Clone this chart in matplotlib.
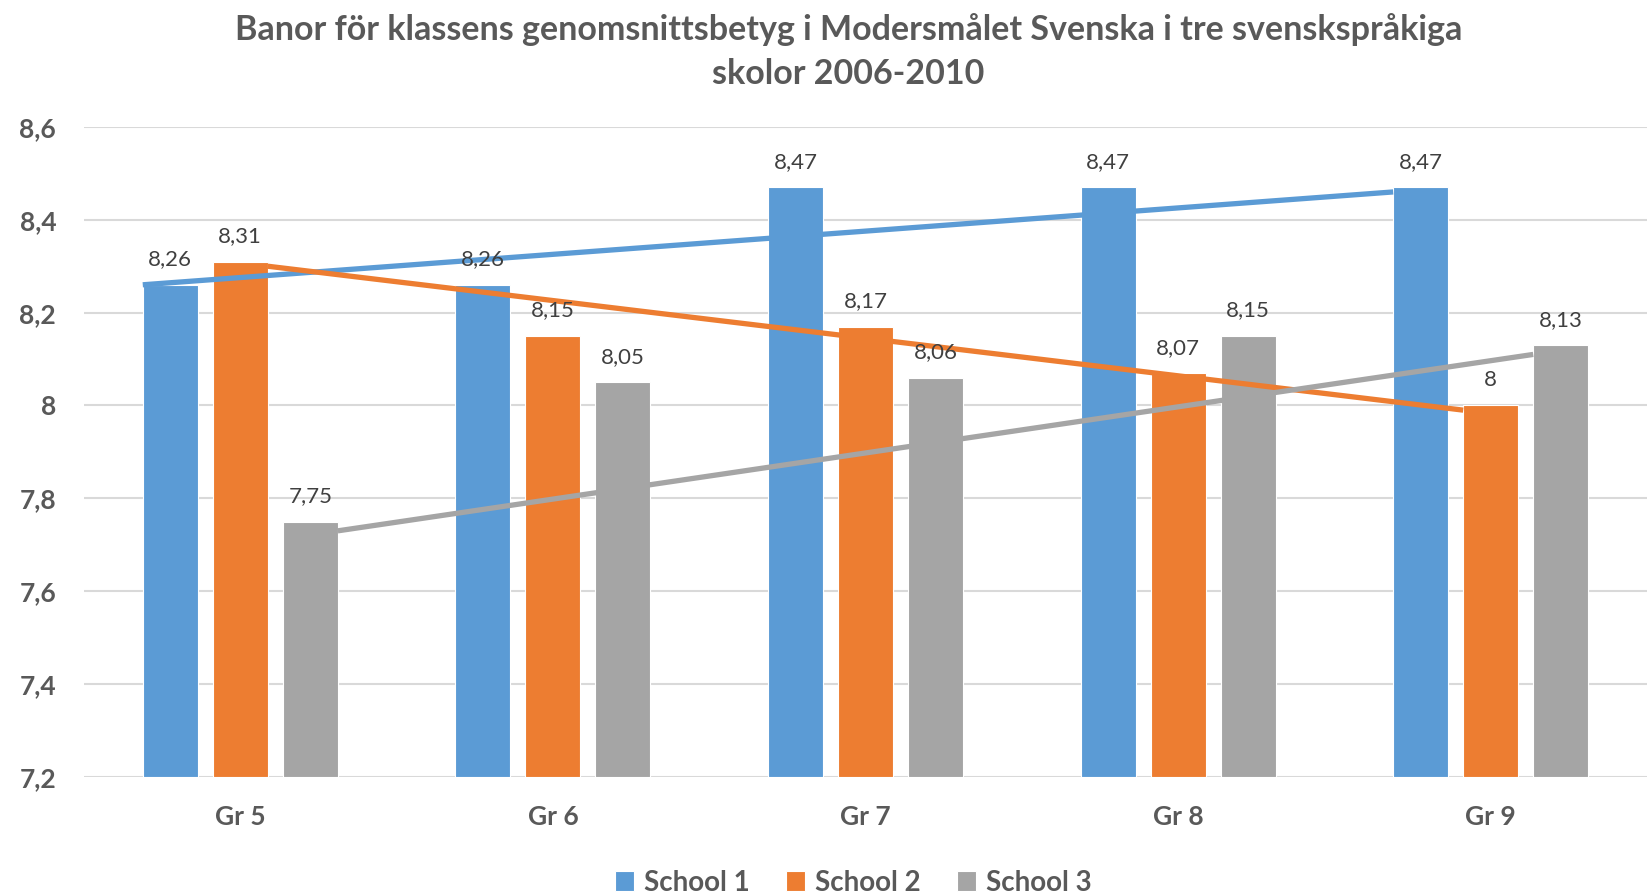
# Banor för klassens genomsnittsbetyg - grouped bars with hand drawn trend lines
import numpy as np
import matplotlib.pyplot as plt

plt.rcParams['font.family'] = ['Lato', 'DejaVu Sans']

grades = ['Gr 5', 'Gr 6', 'Gr 7', 'Gr 8', 'Gr 9']
schools = ['School 1', 'School 2', 'School 3']
school1 = [8.26, 8.26, 8.47, 8.47, 8.47]
school2 = [8.31, 8.15, 8.17, 8.07, 8.00]
school3 = [7.75, 8.05, 8.06, 8.15, 8.13]
# start / end values of the drawn lines
line1 = [8.26, 8.46]
line2 = [8.30, 7.99]
line3 = [7.73, 8.11]

colors = ['#5B9BD5', '#ED7D31', '#A5A5A5']
label_col = '#404040'
axis_col = '#595959'

def fmt(v):
    s = ('%.2f' % v).rstrip('0').rstrip('.')
    return s.replace('.', ',')

fig = plt.figure(figsize=(16.47, 8.94), dpi=100)
ax = fig.add_axes([0.051, 0.131, 0.949, 0.727])

x = np.arange(len(grades))
w = 0.176
step = 0.224
series = [school1, school2, school3]
for i, vals in enumerate(series):
    xs = x + (i - 1) * step
    ax.bar(xs, [v - 7.2 for v in vals], bottom=7.2, width=w, color=colors[i],
           edgecolor='white', linewidth=0.8, label=schools[i], zorder=2)
    for xx, v in zip(xs, vals):
        ax.annotate(fmt(v), (xx, v), xytext=(0, 11), textcoords='offset points',
                    ha='center', va='bottom', fontsize=16, color=label_col, zorder=4)

# drawn lines: x from bar edges of first and last group
lines = [line1, line2, line3]
starts = [x[0] - step - w / 2, x[0] + w / 2, x[0] + step + w / 2]
ends = [x[-1] - step - w / 2, x[-1] - w / 2, x[-1] + step - w / 2]
for i, ln in enumerate(lines):
    ax.plot([starts[i], ends[i]], ln, color=colors[i], lw=3.8,
            solid_capstyle='butt', zorder=3)

ax.set_xlim(-0.5, len(grades) - 0.5)
ax.set_ylim(7.2, 8.6)
yt = np.arange(7.2, 8.61, 0.2)
ax.set_yticks(yt)
ax.set_yticklabels([fmt(round(t, 1)) for t in yt], fontweight='bold')
ax.set_xticks(x)
ax.set_xticklabels(grades, fontweight='bold')
ax.tick_params(axis='y', length=0, pad=20, labelsize=19, labelcolor=axis_col)
ax.tick_params(axis='x', length=0, pad=20, labelsize=19, labelcolor=axis_col)
ax.grid(axis='y', color='#D9D9D9', lw=1.5, zorder=0)
for s in ax.spines.values():
    s.set_visible(False)
ax.set_axisbelow(True)

fig.text(0.515, 0.985, 'Banor för klassens genomsnittsbetyg i Modersmålet Svenska i tre svenskspråkiga\nskolor 2006-2010',
         ha='center', va='top', fontsize=24.5, fontweight='bold', color=axis_col, linespacing=1.45)

fig.legend(loc='lower center', ncol=3, frameon=False, bbox_to_anchor=(0.518, -0.03),
           handlelength=0.7, handleheight=0.7, handletextpad=0.35, columnspacing=1.3,
           prop={'size': 20, 'weight': 'bold'}, labelcolor=axis_col)

fig.savefig('out.png', dpi=100)
